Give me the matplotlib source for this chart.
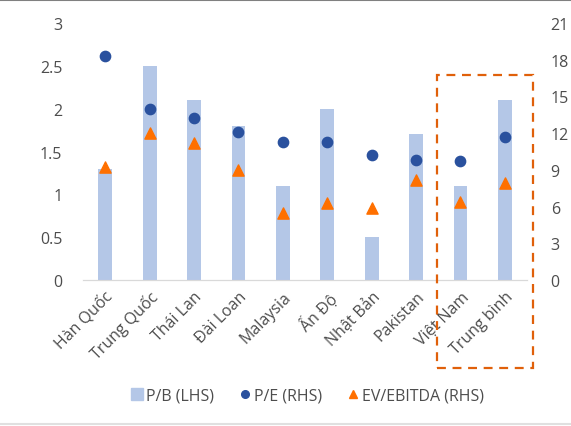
import matplotlib.pyplot as plt
from matplotlib.patches import Rectangle
from matplotlib.lines import Line2D

plt.rcParams['font.family'] = ['Open Sans', 'DejaVu Sans']

countries = ['Hàn Quốc', 'Trung Quốc', 'Thái Lan', 'Đài Loan', 'Malaysia',
             'Ấn Độ', 'Nhật Bản', 'Pakistan', 'Việt Nam', 'Trung bình']
pb = [1.3, 2.5, 2.1, 1.8, 1.1, 2.0, 0.5, 1.7, 1.1, 2.1]
pe = [18.3, 14.0, 13.2, 12.1, 11.3, 11.3, 10.2, 9.8, 9.75, 11.7]
ev_ebitda = [9.2, 12.0, 11.2, 9.0, 5.5, 6.3, 5.9, 8.2, 6.4, 7.9]

text_col = '#4D4D4D'
bar_col = '#B4C7E7'
dot_col = '#2A519E'
tri_col = '#FF7000'

fig = plt.figure(figsize=(5.71, 4.27), dpi=100)
ax = fig.add_axes([0.1454, 0.3419, 0.7776, 0.6019])
ax2 = ax.twinx()

x = list(range(len(countries)))
ax.bar(x, pb, width=0.31, color=bar_col, zorder=1)
ax2.scatter(x, pe, s=55, color=dot_col, marker='o', zorder=3)
ax2.scatter(x, ev_ebitda, s=65, color=tri_col, marker='^', zorder=3)

ax.set_xlim(-0.5, len(countries) - 0.5)
ax.set_ylim(0, 3)
ax2.set_ylim(0, 21)
ax.set_yticks([0, 0.5, 1, 1.5, 2, 2.5, 3])
ax.set_yticklabels(['0', '0.5', '1', '1.5', '2', '2.5', '3'])
ax2.set_yticks(range(0, 22, 3))

for a in (ax, ax2):
    for s in ('top', 'right', 'left'):
        a.spines[s].set_visible(False)
    a.spines['bottom'].set_color('#D9D9D9')
    a.tick_params(length=0, labelsize=11.5, labelcolor=text_col)
ax.tick_params(axis='y', pad=15)
ax2.tick_params(axis='y', pad=17)

ax.set_xticks(x)
ax.set_xticklabels(countries, rotation=45, ha='right', rotation_mode='anchor')
ax.tick_params(axis='x', pad=6)

# highlight box around Vietnam / average
fig.patches.append(Rectangle((436.7 / 571, 1 - 369 / 427), (533 - 436.7) / 571,
                             (369 - 76) / 427, transform=fig.transFigure,
                             fill=False, edgecolor='#E0600A', linestyle=(0, (4, 3)),
                             linewidth=1.6, zorder=5))

handles = [
    Line2D([], [], marker='s', linestyle='none', color=bar_col, markersize=9),
    Line2D([], [], marker='o', linestyle='none', color=dot_col, markersize=5.5),
    Line2D([], [], marker='^', linestyle='none', color=tri_col, markersize=5.5),
]
fig.legend(handles, ['P/B (LHS)', 'P/E (RHS)', 'EV/EBITDA (RHS)'],
           loc='center', bbox_to_anchor=(0.537, 1 - 397 / 427), ncol=3,
           frameon=False, fontsize=11.5, labelcolor=text_col,
           handletextpad=0.1, columnspacing=1.4, handlelength=1.0)

fig.add_artist(Line2D([0, 1], [0.998, 0.998], color='#808080', linewidth=1.5))
fig.add_artist(Line2D([0, 1], [1 - 425 / 427, 1 - 425 / 427], color='#E0E0E0', linewidth=1.5))

fig.savefig('out.png', dpi=100)
